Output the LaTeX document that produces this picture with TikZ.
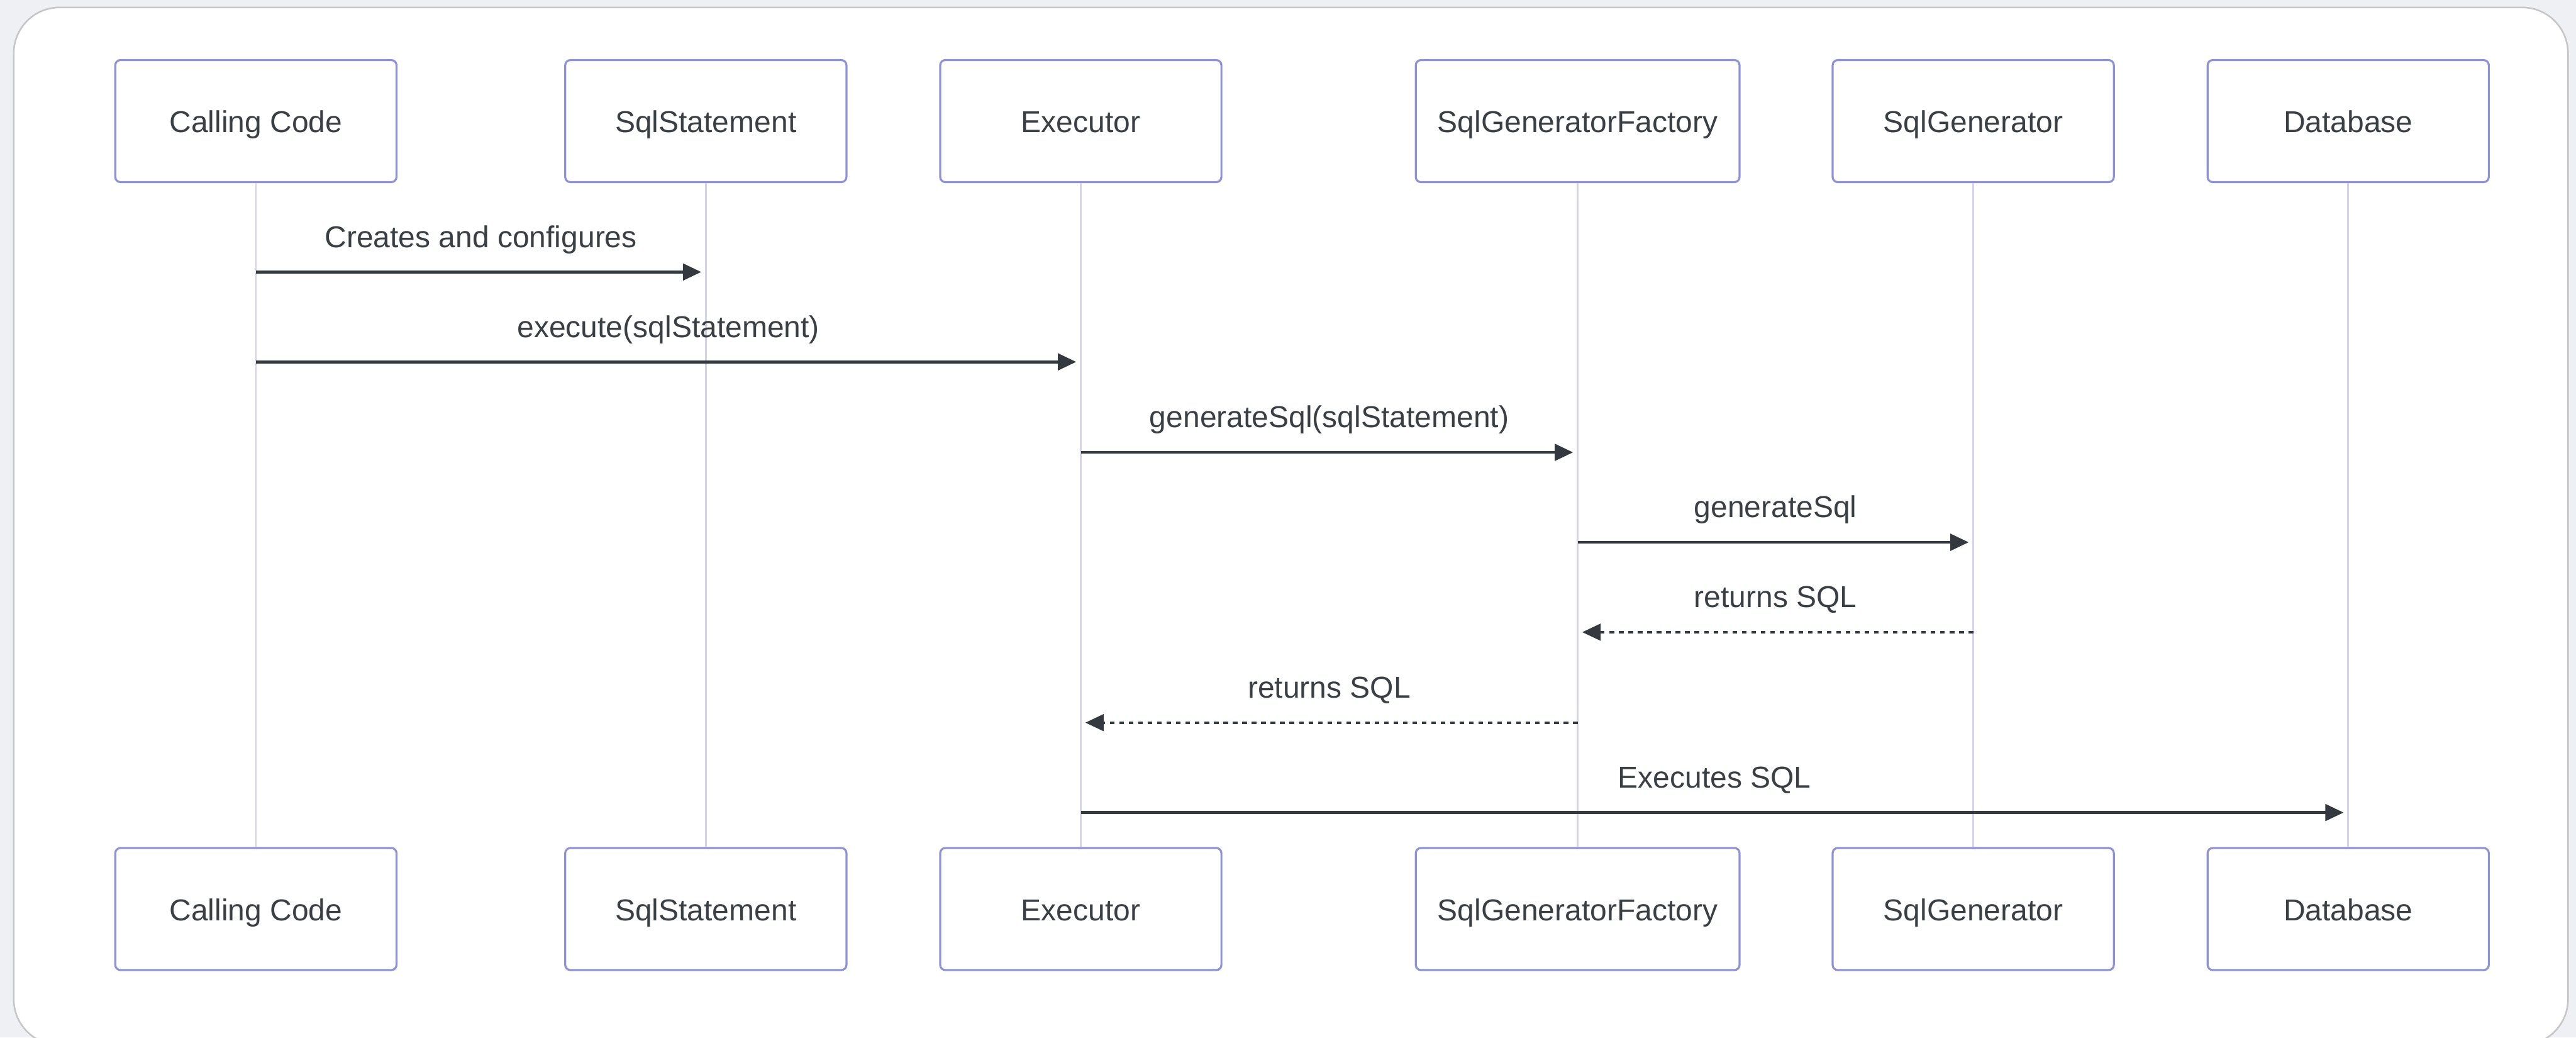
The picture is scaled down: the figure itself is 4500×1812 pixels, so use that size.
\documentclass[tikz,border=0pt]{standalone}
\usepackage{fontspec}
\setmainfont{Liberation Sans}
\usetikzlibrary{arrows.meta}

\definecolor{pagebg}{HTML}{EEF0F3}
\definecolor{cardline}{HTML}{C6C6C6}
\definecolor{boxline}{HTML}{9092D8}
\definecolor{lifeline}{HTML}{D5D3EC}
\definecolor{msgline}{HTML}{33393E}
\definecolor{txt}{HTML}{3A3F44}

\newcommand{\diagfont}{\fontsize{15pt}{18pt}\selectfont}

\begin{document}
\begin{tikzpicture}[x=0.01cm,y=-0.01cm,
  actor/.style={draw=boxline, line width=1pt, fill=white, rounded corners=0.09cm,
    minimum width=4.91cm, minimum height=2.13cm, inner xsep=0.38cm, inner ysep=0pt,
    text height=0.4cm, text depth=0cm, font=\diagfont, text=txt},
  life/.style={draw=lifeline, line width=0.85pt},
  msg/.style={draw=msgline, line width=1.4pt,
    -{Triangle[length=0.32cm,width=0.29cm]}, shorten >=0.08cm},
  reply/.style={msg, line width=1.2pt, dash pattern=on 0.08cm off 0.085cm},
  lbl/.style={font=\diagfont, text=txt, anchor=base, inner sep=0pt, yshift=0.43cm},
]
% page and card
\useasboundingbox (0,0) rectangle (4500,1812);
\fill[pagebg] (0,0) rectangle (4500,1812);
\begin{scope}
\clip (0,0) rectangle (4500,1812);
\draw[cardline, fill=white, line width=0.8pt, rounded corners=0.8cm] (24,13) rectangle (4486,1825);
\end{scope}

% participants (top and bottom)
\node[actor] (cc)  at (447,211.5)  {Calling Code};
\node[actor] (ss)  at (1233,211.5) {SqlStatement};
\node[actor] (ex)  at (1888,211.5) {Executor};
\node[actor] (sgf) at (2756,211.5) {SqlGeneratorFactory};
\node[actor] (sg)  at (3447,211.5) {SqlGenerator};
\node[actor] (db)  at (4102,211.5) {Database};

\node[actor] (ccb)  at (447,1587.5)  {Calling Code};
\node[actor] (ssb)  at (1233,1587.5) {SqlStatement};
\node[actor] (exb)  at (1888,1587.5) {Executor};
\node[actor] (sgfb) at (2756,1587.5) {SqlGeneratorFactory};
\node[actor] (sgb)  at (3447,1587.5) {SqlGenerator};
\node[actor] (dbb)  at (4102,1587.5) {Database};

% lifelines
\draw[life] (cc) -- (ccb);
\draw[life] (ss) -- (ssb);
\draw[life] (ex) -- (exb);
\draw[life] (sgf) -- (sgfb);
\draw[life] (sg) -- (sgb);
\draw[life] (db) -- (dbb);

% message rows
\coordinate (r1) at (0,475);
\coordinate (r2) at (0,632);
\coordinate (r3) at (0,790);
\coordinate (r4) at (0,947);
\coordinate (r5) at (0,1104);
\coordinate (r6) at (0,1262);
\coordinate (r7) at (0,1419);

% messages
\draw[msg] (cc |- r1) -- (ss |- r1) node[lbl, midway] {Creates and configures};
\draw[msg] (cc |- r2) -- (ex |- r2) node[lbl, midway] {execute(sqlStatement)};
\draw[msg] (ex |- r3) -- (sgf |- r3) node[lbl, midway] {generateSql(sqlStatement)};
\draw[msg] (sgf |- r4) -- (sg |- r4) node[lbl, midway] {generateSql};
\draw[reply] (sg |- r5) -- (sgf |- r5) node[lbl, midway] {returns SQL};
\draw[reply] (sgf |- r6) -- (ex |- r6) node[lbl, midway] {returns SQL};
\draw[msg] (ex |- r7) -- (db |- r7) node[lbl, midway] {Executes SQL};
\end{tikzpicture}
\end{document}
